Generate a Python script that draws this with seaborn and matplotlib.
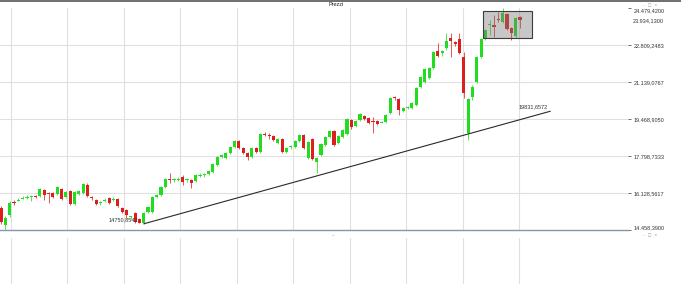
import numpy as np
import pandas as pd
import matplotlib
matplotlib.use("Agg")
import matplotlib.pyplot as plt
import seaborn as sns
from matplotlib.patches import Rectangle
from matplotlib.lines import Line2D

# ---------------- data ----------------
opens = [15465, 14697, 15149, 15736, 15800, 15890, 15920, 15960, 16010, 16007,
         16278, 16110, 16142, 16097, 16323, 15961, 16232, 15645, 16097, 16142,
         16503, 15930, 15826, 15670, 15800, 15916, 15810, 15871, 15465, 15374,
         15040, 15239, 14968, 14788, 15284, 15284, 15961, 16052, 16413, 16750,
         16710, 16750, 16865, 16710, 16729, 16684, 16930, 16940, 17000, 17090,
         17406, 17767, 17722, 17948, 18218, 18489, 18173, 17948, 17767, 18173,
         17993, 18805, 18730, 18715, 18399, 18580, 17993, 18200, 18218, 18489,
         18760, 17722, 18580, 17541, 17857, 18309, 18670, 18941, 18399, 18670,
         18805, 19437, 19166, 19437, 19618, 19528, 19370, 19392, 19320, 19347,
         19753, 20450, 20385, 19844, 19960, 19979, 20115, 20927, 21152, 21333,
         21784, 22552, 22462, 22687, 23139, 22958, 23094, 22281, 18850, 20476,
         21152, 22281, 23094, 23726, 23726, 23996, 23861, 24222, 23590, 23229,
         24087]
highs = [15555, 15103, 15781, 15826, 15900, 16000, 16030, 16050, 16050, 16370,
         16320, 16180, 16190, 16460, 16370, 16232, 16278, 16232, 16278, 16600,
         16593, 15990, 15870, 15760, 15900, 15960, 15960, 15916, 15510, 15420,
         15120, 15284, 15013, 15284, 15555, 16007, 16097, 16458, 16820, 17045,
         16800, 16850, 16955, 16820, 16774, 17000, 17040, 17050, 17180, 17500,
         17812, 17900, 17993, 18264, 18534, 18534, 18218, 17993, 18218, 18218,
         18850, 18900, 18850, 18760, 18625, 18625, 18218, 18300, 18534, 18805,
         18805, 18489, 18625, 17767, 18399, 18715, 18986, 18986, 18760, 19031,
         19528, 19482, 19437, 19753, 19663, 19573, 19573, 19437, 19400, 19708,
         20475, 20520, 20430, 20025, 20050, 20250, 20927, 21423, 21784, 21829,
         22552, 22913, 22597, 23364, 23364, 23003, 23364, 22507, 20430, 21000,
         22326, 23139, 23545, 23951, 24177, 24312, 24479.42, 24267, 23635, 24087,
         24132]
lows = [14743, 14458.39, 15058, 15600, 15760, 15850, 15880, 15781, 15920, 15960,
        15826, 15690, 15920, 16050, 15826, 15916, 15600, 15600, 16050, 16097,
        15960, 15826, 15600, 15620, 15736, 15645, 15781, 15510, 15239, 15013,
        14968, 14788, 14770, 14750.8542, 15240, 15239, 15916, 16007, 16368, 16593,
        16660, 16700, 16503, 16660, 16368, 16639, 16880, 16870, 16955, 17045,
        17360, 17722, 17677, 17903, 18173, 18128, 17903, 17631, 17722, 17948,
        17948, 18700, 18580, 18489, 18354, 17948, 17948, 18150, 18173, 18444,
        18128, 17677, 17631, 17045, 17812, 18264, 18625, 18264, 18354, 18625,
        18760, 19030, 19121, 19392, 19437, 19257, 18850, 19212, 19280, 19302,
        19708, 20340, 19663, 19800, 19920, 19934, 20070, 20882, 21107, 21288,
        21739, 22281, 22326, 22597, 22281, 22800, 22417, 20430, 18534, 20340,
        21107, 22236, 23048, 23274, 23184, 23861, 23816, 23500, 23048, 23139,
        23590]
closes = [14833, 15013, 15690, 15700, 15840, 15930, 15970, 16000, 15960, 16323,
          16052, 16080, 15961, 16413, 15871, 16187, 15645, 16187, 16232, 16548,
          16007, 15900, 15645, 15710, 15840, 15690, 15850, 15555, 15284, 15149,
          15080, 14833, 14788, 15239, 15510, 15961, 16052, 16413, 16774, 16710,
          16750, 16790, 16639, 16750, 16593, 16955, 16970, 16980, 17135, 17451,
          17767, 17857, 17948, 18218, 18489, 18173, 17948, 17767, 18173, 17993,
          18805, 18770, 18700, 18534, 18580, 17993, 18173, 18240, 18489, 18760,
          18173, 18444, 17677, 17722, 18354, 18670, 18941, 18309, 18715, 18986,
          19482, 19121, 19392, 19708, 19482, 19302, 19330, 19257, 19360, 19663,
          20430, 20410, 19889, 19979, 20000, 20205, 20882, 21378, 21739, 21784,
          22507, 22326, 22552, 23003, 23003, 22868, 22462, 20656, 20385, 20927,
          22281, 23094, 23500, 23771, 23635, 23951, 24267, 23545, 23364, 24042,
          23934.13]

trend_x = [33, 127]
trend_y = [14750.8542, 19831.6572]
trend_labels = ["14750,8542", "19831,6572"]
title = "Prezzi"
last_price = closes[-1]

# ---------------- style ----------------
sns.set_theme(style="white")
plt.rcParams["font.family"] = ["Liberation Sans", "DejaVu Sans"]

W, H = 681, 299
fig = plt.figure(figsize=(W / 100, H / 100), dpi=100)


def fax(l, t, r, b):
    return [l / W, 1 - b / H, (r - l) / W, (b - t) / H]


ax = fig.add_axes(fax(0, 8.3, 628, 230.3))
ax2 = fig.add_axes(fax(0, 238, 628, 284))

df = pd.DataFrame({"o": opens, "h": highs, "l": lows, "c": closes})
df["x"] = np.arange(len(df))
up = df["c"] >= df["o"]
GREEN, RED = "#22dc22", "#dc1e1e"
col = np.where(up, GREEN, RED)

lo, hi = df["l"].min(), df["h"].max()
yt = np.linspace(lo, hi, 7)
xmin, xmax = -1 / 4.325, 627 / 4.325
grid_x = [2.31 + 13.05 * k for k in range(10)]

for a in (ax, ax2):
    a.set_xlim(xmin, xmax)
    a.grid(False)
    for gx in grid_x:
        a.axvline(gx, color="#e0e0e0", lw=0.8, zorder=0)
    a.set_xticks([])
    for s in ("top", "left", "right", "bottom"):
        a.spines[s].set_visible(False)
ax2.set_yticks([])
ax2.set_ylim(0, 1)

ax.set_ylim(lo, hi)
for v in yt[1:-1]:
    ax.axhline(v, color="#e0e0e0", lw=0.8, zorder=0)
ax.spines["bottom"].set_visible(True)
ax.spines["bottom"].set_color("#8597ab")
ax.spines["bottom"].set_linewidth(1.0)

# wicks and bodies
ax.vlines(df["x"], df["l"], df["h"], colors=col, lw=0.7, alpha=0.75, zorder=2)
body_bottom = np.minimum(df["o"], df["c"])
body_h = np.maximum(np.abs(df["c"] - df["o"]), 45)
ax.bar(df["x"], body_h, bottom=body_bottom, width=0.72, color=col,
       linewidth=0, zorder=3)

# trend line
sns.lineplot(x=trend_x, y=trend_y, ax=ax, color="#2a2a2a", lw=0.8, zorder=4)
ax.text(31.6, 14923, trend_labels[0], ha="right", va="center", fontsize=4,
        color="#333333", zorder=6)
ax.text(126.3, 20030, trend_labels[1], ha="right", va="center", fontsize=4,
        color="#333333", zorder=6)

# selection box
ax.add_patch(Rectangle((111.4, 23139), 11.4, 1218, facecolor="#7a7a7a",
                       alpha=0.42, edgecolor="none", zorder=5))
ax.add_patch(Rectangle((111.4, 23139), 11.4, 1218, fill=False,
                       edgecolor="#3c3c3c", lw=0.8, zorder=5))


def it_fmt(v):
    s = f"{v:,.4f}"
    return s.replace(",", "X").replace(".", ",").replace("X", ".")


ax.yaxis.tick_right()
ax.set_yticks(yt)
ax.set_yticklabels([it_fmt(v) for v in yt])
ax.tick_params(axis="y", length=2.5, width=0.6, color="#555555", labelsize=4,
               pad=1.5, labelcolor="#333333")
labs = ax.get_yticklabels()
labs[-1].set_va("top")
labs[0].set_va("bottom")
ax.text(1 + 4.5 / 628, last_price, it_fmt(last_price), transform=ax.get_yaxis_transform(),
        ha="left", va="center", fontsize=4, color="#333333")

# header / decorations
fig.add_artist(Line2D([0, 1], [1 - 0.8 / H, 1 - 0.8 / H], color="#6e6e6e", lw=1.4))
fig.text(336 / W, 1 - 5 / H, title, ha="center", va="center", fontsize=4, color="#222222")
for yy in (5, 235):
    fig.text(650 / W, 1 - yy / H, "–  □  ×", ha="center", va="center", fontsize=3,
             color="#9a9a9a", family=["DejaVu Sans"])
fig.text(333 / W, 1 - 235.5 / H, "–", ha="center", va="center", fontsize=3, color="#555555")

fig.savefig("out.png", dpi=100, facecolor="white")
